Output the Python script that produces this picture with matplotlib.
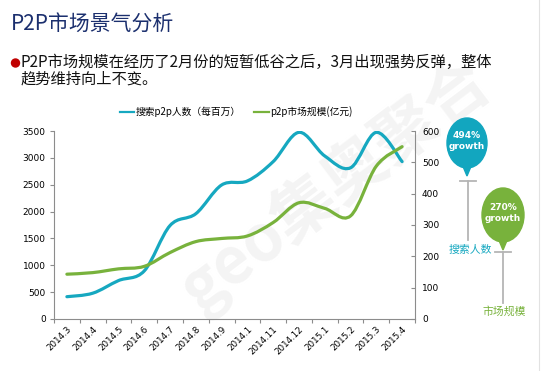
import matplotlib

matplotlib.use("Agg")
import matplotlib.pyplot as plt  # noqa: E402
from matplotlib.path import Path  # noqa: E402
from matplotlib.patches import PathPatch, Ellipse, Polygon  # noqa: E402
from matplotlib.lines import Line2D  # noqa: E402

plt.rcParams["font.family"] = ["Noto Sans CJK SC", "DejaVu Sans"]

months = ["2014.3", "2014.4", "2014.5", "2014.6", "2014.7", "2014.8", "2014.9",
          "2014.1", "2014.11", "2014.12", "2015.1", "2015.2", "2015.3", "2015.4"]
searchers = [415, 480, 715, 895, 1740, 1960, 2495, 2570, 2930, 3475, 3035, 2815, 3475, 2930]
market = [143, 148, 160, 168, 212, 247, 257, 265, 308, 371, 353, 329, 488, 550]

left_ticks = [0, 500, 1000, 1500, 2000, 2500, 3000, 3500]
right_ticks = [0, 100, 200, 300, 400, 500, 600]

BLUE = "#16a8c0"
GREEN = "#78b23c"
NAVY = "#1b2f6e"
AXIS = "#8c8c8c"


def smooth_path(xs, ys):
    """Excel-style smoothed line as a chain of cubic Bezier segments."""
    n = len(xs)
    verts = [(xs[0], ys[0])]
    codes = [Path.MOVETO]
    for i in range(n - 1):
        a = max(i - 1, 0)
        b = min(i + 2, n - 1)
        c1 = (xs[i] + (xs[i + 1] - xs[a]) / 6, ys[i] + (ys[i + 1] - ys[a]) / 6)
        c2 = (xs[i + 1] - (xs[b] - xs[i]) / 6, ys[i + 1] - (ys[b] - ys[i]) / 6)
        verts += [c1, c2, (xs[i + 1], ys[i + 1])]
        codes += [Path.CURVE4] * 3
    return Path(verts, codes)


W, H = 545, 371
fig = plt.figure(figsize=(W / 100, H / 100), dpi=100)


def fx(px):
    return px / W


def fy(py):
    return 1 - py / H


# watermark, kept behind the axes
fig.text(fx(335), fy(185), "geo集奥聚合", fontsize=46, fontweight="bold",
         color="#f4f4f4", rotation=37, ha="center", va="center", zorder=-5)

# title + bullet text
fig.text(fx(11), fy(25), "P2P市场景气分析", fontsize=15, color=NAVY,
         ha="left", va="center")
fig.patches.append(Ellipse((fx(15.5), fy(63)), 8 / W, 8 / H, color="#c00000",
                           transform=fig.transFigure, figure=fig))
fig.text(fx(21), fy(62), "P2P市场规模在经历了2月份的短暂低谷之后，3月出现强势反弹，整体",
         fontsize=11, color="#111111", ha="left", va="center")
fig.text(fx(21), fy(79), "趋势维持向上不变。", fontsize=11, color="#111111",
         ha="left", va="center")

ax = fig.add_axes([fx(54), fy(319), fx(415) - fx(54), fy(131) - fy(319)])
ax.set_facecolor("none")
ax2 = ax.twinx()
ax2.set_facecolor("none")

xs = list(range(len(months)))
ax.add_patch(PathPatch(smooth_path(xs, searchers), fill=False, edgecolor=BLUE,
                       lw=2.3, capstyle="round"))
ax2.add_patch(PathPatch(smooth_path(xs, market), fill=False, edgecolor=GREEN,
                        lw=2.3, capstyle="round"))

ax.set_xlim(-0.5, len(months) - 0.5)
ax.set_ylim(0, 3500)
ax2.set_ylim(0, 600)
ax.set_yticks(left_ticks)
ax2.set_yticks(right_ticks)
ax.set_xticks([i + 0.5 for i in range(-1, len(months))])
ax.set_xticklabels([])
ax.set_xticks(xs, minor=True)
ax.set_xticklabels(months, minor=True, rotation=45, ha="right",
                   rotation_mode="anchor", fontsize=6.3, family="DejaVu Sans")
ax.tick_params(axis="x", which="minor", length=0, pad=4)
ax.tick_params(axis="x", which="major", length=3, color=AXIS, direction="out")
ax.tick_params(axis="y", length=3, color=AXIS, labelsize=6.5, pad=3)
ax2.tick_params(axis="y", length=3, color=AXIS, labelsize=6.5, direction="in", pad=5)
for lab in ax.get_yticklabels() + ax2.get_yticklabels():
    lab.set_family("DejaVu Sans")

for a in (ax, ax2):
    a.spines["top"].set_visible(False)
    for side in ("left", "right", "bottom"):
        a.spines[side].set_color(AXIS)
ax.spines["right"].set_visible(False)
ax2.spines["left"].set_visible(False)
ax2.spines["bottom"].set_visible(False)

handles = [Line2D([], [], color=BLUE, lw=1.6), Line2D([], [], color=GREEN, lw=1.6)]
fig.legend(handles, ["搜索p2p人数（每百万）", "p2p市场规模(亿元)"],
           loc="center", bbox_to_anchor=(fx(236), fy(112)), ncol=2,
           frameon=False, fontsize=7, handlelength=1.5, handletextpad=0.1,
           columnspacing=1.4)


# growth balloons with leader lines
def balloon(cx, cy, w, h, tip_y, color, text):
    fig.patches.append(Ellipse((fx(cx), fy(cy)), w / W, h / H, color=color,
                               transform=fig.transFigure, figure=fig))
    fig.patches.append(Polygon([(fx(cx - 5), fy(cy + h / 2 - 4)),
                                (fx(cx + 5), fy(cy + h / 2 - 4)),
                                (fx(cx), fy(tip_y))], closed=True, color=color,
                               transform=fig.transFigure, figure=fig))
    fig.text(fx(cx), fy(cy - 2), text, fontsize=6.5, fontweight="bold",
             color="white", ha="center", va="center", linespacing=1.15,
             family="DejaVu Sans")


def leader(x, y0, y1):
    fig.lines.append(Line2D([fx(x), fx(x)], [fy(y0), fy(y1)], color="#b5b5b5",
                            lw=1.3, transform=fig.transFigure, figure=fig))
    fig.lines.append(Line2D([fx(x - 8), fx(x + 8)], [fy(y0), fy(y0)],
                            color="#b5b5b5", lw=1.3, transform=fig.transFigure,
                            figure=fig))


balloon(467, 143, 40, 50, 176, "#12a6bf", "494%\ngrowth")
leader(468, 181, 240)
fig.text(fx(470), fy(250), "搜索人数", fontsize=7.8, color=BLUE,
         ha="center", va="center")

balloon(503, 215, 42, 54, 250, GREEN, "270%\ngrowth")
leader(503, 252, 303)
fig.text(fx(504), fy(311), "市场规模", fontsize=7.8, color=GREEN,
         ha="center", va="center")

fig.lines.append(Line2D([fx(539), fx(539)], [0, 1], color="#e2e2e2", lw=0.8,
                        transform=fig.transFigure, figure=fig))

fig.savefig("out.png", dpi=100)
plt.close(fig)
